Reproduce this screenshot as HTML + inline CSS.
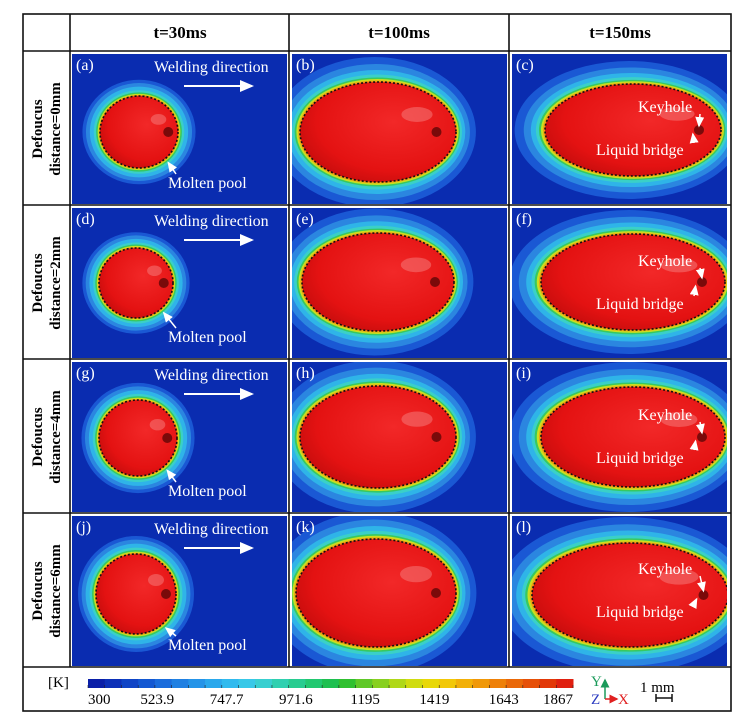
<!DOCTYPE html>
<html><head><meta charset="utf-8"><style>
body{margin:0;background:#fff;width:739px;height:723px;overflow:hidden}
svg{display:block}
text{font-family:"Liberation Serif",serif}
</style></head><body>
<svg id="fig" width="739" height="723" viewBox="0 0 739 723" xmlns="http://www.w3.org/2000/svg">
<defs>
<marker id="ah" markerWidth="8" markerHeight="8" refX="6" refY="3" orient="auto"><path d="M0,0 L7,3 L0,6 z" fill="#fff"/></marker>
<marker id="ah2" markerWidth="6" markerHeight="6" refX="5" refY="3" orient="auto"><path d="M0,0 L6,3 L0,6 z" fill="#e02020"/></marker>
<marker id="ah3" markerWidth="6" markerHeight="6" refX="5" refY="3" orient="auto"><path d="M0,0 L6,3 L0,6 z" fill="#1a9a5a"/></marker>
<radialGradient id="rg" cx="0.6" cy="0.4" r="0.7"><stop offset="0" stop-color="#f22828"/><stop offset="0.7" stop-color="#e41212"/><stop offset="1" stop-color="#c00c0c"/></radialGradient>
</defs>
<g id="panels"></g>
<g id="grid" fill="none" stroke="#111" stroke-width="1.6">
<rect x="23" y="14" width="708" height="697"/>
<line x1="70" y1="14" x2="70" y2="667"/>
<line x1="289" y1="14" x2="289" y2="667"/>
<line x1="509" y1="14" x2="509" y2="667"/>
<line x1="23" y1="51" x2="731" y2="51"/>
<line x1="23" y1="205" x2="731" y2="205"/>
<line x1="23" y1="359" x2="731" y2="359"/>
<line x1="23" y1="513" x2="731" y2="513"/>
<line x1="23" y1="667" x2="731" y2="667"/>
</g>
<g font-weight="bold" font-size="17" text-anchor="middle">
<text x="180" y="38">t=30ms</text>
<text x="399" y="38">t=100ms</text>
<text x="620" y="38">t=150ms</text>
</g>
<g id="rowlabels" font-size="15" text-anchor="middle"></g>
<g id="cbar"></g>
<text x="48" y="687" font-size="15">[K]</text>
<g>
<text x="591" y="686" font-size="15" fill="#1a9a5a">Y</text>
<text x="591" y="704" font-size="15" fill="#2a3ac0">Z</text>
<text x="618" y="704" font-size="15" fill="#e02020">X</text>
<line x1="605" y1="699" x2="605" y2="680" stroke="#1a9a5a" stroke-width="1.5" marker-end="url(#ah3)"/>
<line x1="605" y1="699" x2="617" y2="699" stroke="#e02020" stroke-width="1.5" marker-end="url(#ah2)"/>
</g>
<g>
<text x="640" y="692" font-size="15">1 mm</text>
<line x1="656" y1="698" x2="672" y2="698" stroke="#111" stroke-width="1.5"/>
<line x1="656" y1="694" x2="656" y2="702" stroke="#111" stroke-width="1.5"/>
<line x1="672" y1="694" x2="672" y2="702" stroke="#111" stroke-width="1.5"/>
</g>
</svg>
<script>
const NS="http://www.w3.org/2000/svg";
const tickLabels=["300","523.9","747.7","971.6","1195","1419","1643","1867"];
const bandColors=["#0a1fa8","#0c30b8","#0f44c6","#1358d2","#1a6cdc","#2080e2","#2594e8","#2aa8ec","#30baee","#38c8e8","#38cfd0","#30d0b0","#28cc90","#22c870","#1ec050","#30c030","#60c828","#88d020","#b0d818","#d0dc10","#e8d808","#f2c808","#f2b008","#f09808","#ee8008","#ea6808","#e65008","#e23808","#e02010"];
const rowLabels=["0mm","2mm","4mm","6mm"];
const panelLetters=["a","b","c","d","e","f","g","h","i","j","k","l"];
// red pool ellipse per panel: [cx, cy, rx, ry] relative to panel
const poolCx=[67,86,121, 64,86,121, 66,86,121, 64,84,118];
const poolCy=[78,78,76, 75,74,74, 76,75,75, 78,77,79];
const poolRx=[39,78,88, 37,76,92, 39,78,92, 40,80,98];
const poolRy=[36,50,46, 35,49,48, 38,51,50, 40,54,52];
function mk(tag,attrs,parent){const e=document.createElementNS(NS,tag);for(const k in attrs)e.setAttribute(k,attrs[k]);parent.appendChild(e);return e;}
const P=document.getElementById("panels");
const colX=[72,292,512], rowY=[54,208,362,516], PW=215, PH=150;
const ringCols=["#1a58d4","#2b86e0","#2fb4e8","#3ad0c8","#38c860","#c8e020","#f0a010"];
const ringSx=[1.3,1.21,1.14,1.09,1.06,1.04,1.02];
const ringSy=[1.5,1.36,1.24,1.15,1.09,1.06,1.03];
const ringS1=[1.45,1.36,1.26,1.16,1.1,1.06,1.03];
for(let i=0;i<12;i++){
  const r=Math.floor(i/3),c=i%3,x=colX[c],y=rowY[r];
  const g=mk("g",{transform:`translate(${x},${y})`},P);
  
  
  const cp=mk("clipPath",{id:"cp"+i},g);
  mk("rect",{width:PW,height:PH},cp);
  const inner=mk("g",{"clip-path":`url(#cp${i})`},g);
  mk("rect",{width:PW,height:PH,fill:"#0a2cb0"},inner);
  const cx=poolCx[i],cy=poolCy[i],rx=poolRx[i],ry=poolRy[i];
  ringCols.forEach((col,k)=>{const sx=c==0?ringS1[k]:ringSx[k],sy=c==0?ringS1[k]:ringSy[k];
    mk("ellipse",{cx:cx-(c?rx*0.15*(sx-1):0),cy:cy,rx:rx*sx,ry:ry*sy,fill:col},inner);});
  mk("ellipse",{cx,cy,rx,ry,fill:"url(#rg)"},inner);
  mk("ellipse",{cx,cy,rx,ry,fill:"none",stroke:"#111","stroke-width":1.6,"stroke-dasharray":"2 2"},inner);
  mk("ellipse",{cx:cx+rx*0.75,cy:cy,rx:5,ry:5,fill:"#7a0a0a"},inner);
  mk("ellipse",{cx:cx+rx*0.5,cy:cy-ry*0.35,rx:rx*0.2,ry:ry*0.15,fill:"#f58080",opacity:0.5},inner);
  const t=mk("text",{x:4,y:16,fill:"#fff","font-size":16},g);t.textContent="("+panelLetters[i]+")";
  
  
  if(c==0){
    const w=mk("text",{x:82,y:18,fill:"#fff","font-size":16},g);w.textContent="Welding direction";
    
    
    mk("line",{x1:112,y1:32,x2:180,y2:32,stroke:"#fff","stroke-width":2,"marker-end":"url(#ah)"},g);
    const m=mk("text",{x:96,y:134,fill:"#fff","font-size":16},g);m.textContent="Molten pool";
    
    
    mk("line",{x1:104,y1:120,x2:cx+rx*0.75,y2:cy+ry*0.85,stroke:"#fff","stroke-width":1.5,"marker-end":"url(#ah)"},g);
  }
  if(c==2){
    const k=mk("text",{x:126,y:58,fill:"#fff","font-size":16},g);k.textContent="Keyhole";
    
    
    const l=mk("text",{x:84,y:101,fill:"#fff","font-size":16},g);l.textContent="Liquid bridge";
    
    
    mk("line",{x1:188,y1:60,x2:cx+rx*0.75,y2:cy-4,stroke:"#fff","stroke-width":1.5,"marker-end":"url(#ah)"},g);
    mk("line",{x1:182,y1:88,x2:cx+rx*0.68,y2:cy+4,stroke:"#fff","stroke-width":1.5,"marker-end":"url(#ah)"},g);
  }
}
const RL=document.getElementById("rowlabels");
rowLabels.forEach((d,r)=>{
  const cy=rowY[r]+75;
  const t=mk("text",{transform:`translate(46,${cy}) rotate(-90)`,"font-weight":"bold"},RL);
  
  
  mk("tspan",{x:0,y:-4},t).textContent="Defoucus";
  mk("tspan",{x:0,y:14},t).textContent="distance="+d;
});
const CB=document.getElementById("cbar");
const cbX0=88,cbX1=573,cbY=679,cbH=9;
const bw=(cbX1-cbX0)/bandColors.length;
bandColors.forEach((col,k)=>{
  const r=mk("rect",{x:cbX0+k*bw,y:cbY,width:bw+0.5,height:cbH,fill:col},CB);
  
  
});
for(let k=0;k<=bandColors.length;k++)mk("line",{x1:cbX0+k*bw,y1:cbY+cbH-3,x2:cbX0+k*bw,y2:cbY+cbH,stroke:"#222","stroke-width":0.6},CB);
tickLabels.forEach((s,k)=>{
  const x=cbX0+k*(cbX1-cbX0)/(tickLabels.length-1);
  const t=mk("text",{x:x,y:704,"font-size":15,"text-anchor":k==0?"start":(k==tickLabels.length-1?"end":"middle")},CB);
  t.textContent=s;
  
  
});
</script>
</body></html>
